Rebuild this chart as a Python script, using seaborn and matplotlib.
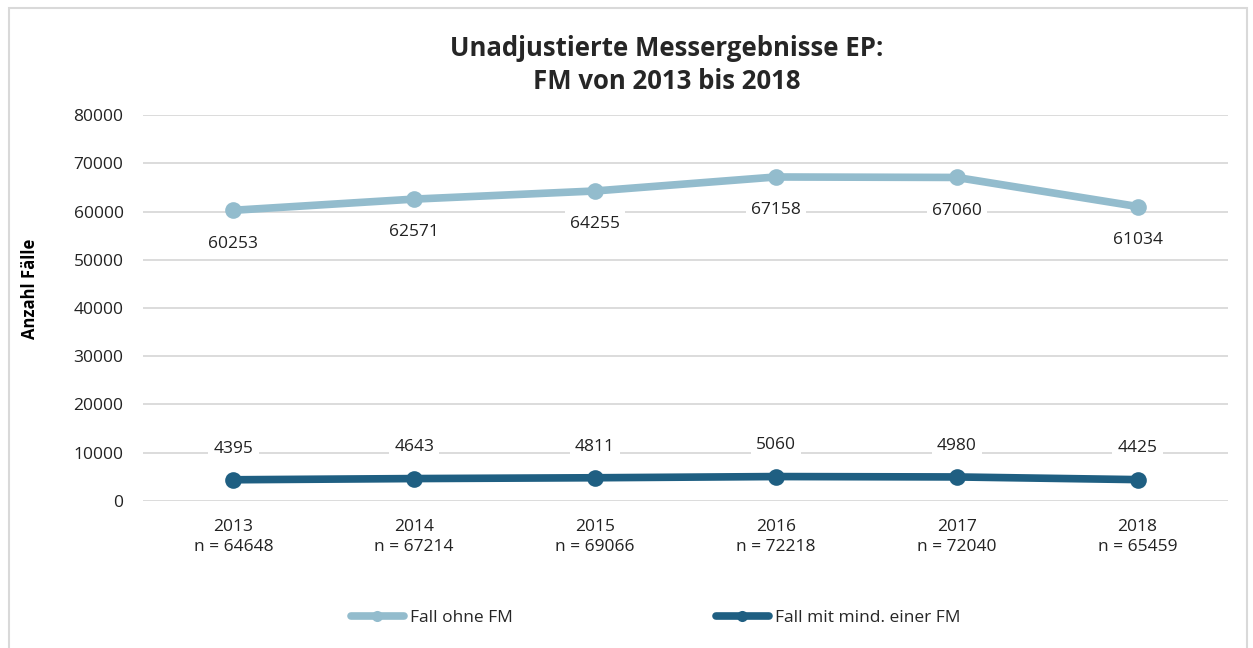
import matplotlib
matplotlib.use("Agg")
import matplotlib.pyplot as plt
import seaborn as sns
import pandas as pd
from matplotlib.patches import Rectangle

years = ["2013", "2014", "2015", "2016", "2017", "2018"]
n_values = [64648, 67214, 69066, 72218, 72040, 65459]
ohne_fm = [60253, 62571, 64255, 67158, 67060, 61034]
mit_fm = [4395, 4643, 4811, 5060, 4980, 4425]
series_names = ["Fall ohne FM", "Fall mit mind. einer FM"]
colors = ["#93BCCD", "#1F5F82"]

sns.set_theme(style="white")
plt.rcParams["font.family"] = ["Open Sans", "DejaVu Sans"]

df = pd.DataFrame({
    "idx": list(range(len(years))) * 2,
    "value": ohne_fm + mit_fm,
    "series": [series_names[0]] * len(years) + [series_names[1]] * len(years),
})

fig = plt.figure(figsize=(12.53, 6.48), dpi=100)
ax = fig.add_axes([0.1141, 0.2269, 0.8659, 0.5956])

sns.lineplot(data=df, x="idx", y="value", hue="series", palette=colors,
             hue_order=series_names, linewidth=5.5, marker="o", markersize=12,
             markeredgewidth=0, ax=ax, legend=False)

ax.set_xlim(-0.5, len(years) - 0.5)
ax.set_ylim(0, 80000)
ax.set_yticks(range(0, 80001, 10000))
ax.set_yticklabels([str(v) for v in range(0, 80001, 10000)], fontsize=12.5, color="#222222")
ax.set_xticks(range(len(years)))
ax.set_xticklabels([f"{y}\nn = {n}" for y, n in zip(years, n_values)], fontsize=12.5,
                   color="#222222", linespacing=1.35)
ax.tick_params(axis="y", length=0, pad=14)
ax.tick_params(axis="x", length=0, pad=13)
ax.yaxis.grid(True, color="#D9D9D9", linewidth=1.3)
ax.set_axisbelow(True)
for s in ax.spines.values():
    s.set_visible(False)
ax.set_xlabel("")
ax.set_ylabel("Anzahl Fälle", fontsize=12, fontweight="bold", color="black")
ax.yaxis.set_label_coords(-0.096, 0.55)

bbox = dict(boxstyle="square,pad=0.3", fc="white", ec="none")
for i, v in enumerate(ohne_fm):
    ax.annotate(str(v), (i, v), xytext=(0, -24), textcoords="offset points",
                ha="center", va="center", fontsize=12.5, color="#222222", bbox=bbox)
for i, v in enumerate(mit_fm):
    ax.annotate(str(v), (i, v), xytext=(0, 22.5), textcoords="offset points",
                ha="center", va="center", fontsize=12.5, color="#222222", bbox=bbox)

fig.text(0.532, 0.9, "Unadjustierte Messergebnisse EP:\nFM von 2013 bis 2018",
         ha="center", va="center", fontsize=18.5, fontweight="bold", linespacing=1.3)

handles = [plt.Line2D([], [], color=c, linewidth=5.5, marker="o", markersize=8,
                      markeredgewidth=0) for c in colors]
fig.legend(handles, series_names, loc="center", bbox_to_anchor=(0.523, 0.047), ncol=2,
           frameon=False, fontsize=12.5, handlelength=3.1, handletextpad=0.3,
           columnspacing=11.7)

fig.patches.append(Rectangle((0.007, -0.01), 0.988, 0.998, transform=fig.transFigure,
                             fill=False, ec="#D9D9D9", lw=1.5, zorder=0))

fig.savefig("out.png", dpi=100, facecolor="white")
